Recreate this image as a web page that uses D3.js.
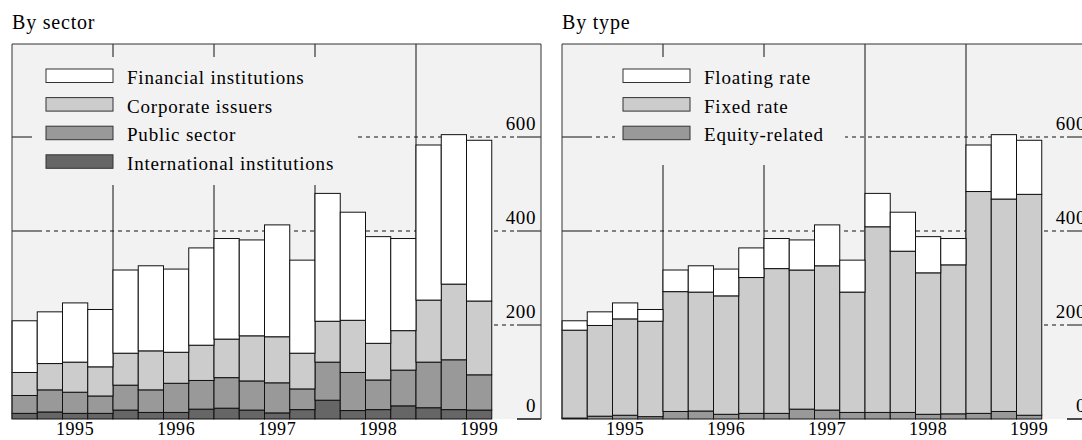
<!DOCTYPE html>
<html>
<head>
<meta charset="utf-8">
<script src="https://cdn.jsdelivr.net/npm/d3@7"></script>
<style>
  body { margin: 0; background: #fff; }
  svg { display: block; font-family: "Liberation Serif", "DejaVu Serif", serif; }
</style>
</head>
<body>
<svg width="1082" height="440"></svg>
<script>
var quarters = ["1995Q1","1995Q2","1995Q3","1995Q4","1996Q1","1996Q2","1996Q3","1996Q4",
    "1997Q1","1997Q2","1997Q3","1997Q4","1998Q1","1998Q2","1998Q3","1998Q4",
    "1999Q1","1999Q2","1999Q3"];
var years = ["1995", "1996", "1997", "1998", "1999"];
var yTicks = [0, 200, 400, 600];

// by sector
var intlInst = [12,15,12,12,19,14,14,21,23,19,13,20,40,18,20,28,24,20,19];
var publicSector = [38,47,45,37,53,48,62,61,65,62,64,44,81,81,63,76,97,106,75];
var corporate = [49,56,64,62,68,83,66,75,82,96,98,76,87,111,78,84,132,161,157];
var financial = [110,110,126,122,177,181,177,207,214,204,238,198,272,230,227,196,330,318,342];

// by type
var equity = [2,6,8,5,16,17,10,12,12,21,19,14,14,14,10,11,12,16,8];
var fixedRate = [187,193,205,203,255,253,252,289,308,296,307,256,395,343,301,317,472,452,470];
var floatingRate = [20,29,34,25,46,56,57,63,64,64,87,68,71,83,77,56,99,137,115];

var sectorKeys = ["International institutions", "Public sector", "Corporate issuers", "Financial institutions"];
var typeKeys = ["Equity-related", "Fixed rate", "Floating rate"];

var svg = d3.select("svg");
var y = d3.scaleLinear().domain([0, 800]).range([419, 43]);

function makeRows(series, keys) {
    return quarters.map(function(q, i) {
        var row = {q: q};
        keys.forEach(function(k, j) { row[k] = series[j][i]; });
        return row;
    });
}

function drawPanel(x0, title, keys, series, fills, legendBox, swatchX) {
    var g = svg.append("g");
    var panelW = 529;
    var x = d3.scaleBand().domain(quarters).range([x0, x0 + 25.25 * quarters.length]);
    var bw = x.bandwidth();

    g.append("text")
        .attr("x", x0)
        .attr("y", 29)
        .style("font-size", "20px")
        .style("letter-spacing", "0.8px")
        .text(title);

    // panel background
    g.append("rect")
        .attr("x", x0).attr("y", 44)
        .attr("width", panelW).attr("height", 419 - 44)
        .attr("fill", "#f2f2f2");

    // year separators
    g.selectAll(".sep")
        .data(years.slice(1))
        .enter().append("line")
        .attr("x1", function(d) { return x(d + "Q1"); })
        .attr("x2", function(d) { return x(d + "Q1"); })
        .attr("y1", 44).attr("y2", 419)
        .attr("stroke", "#111").attr("stroke-width", 1);

    // dashed grid
    var grid = yTicks.filter(function(d) { return d > 0; });
    g.selectAll(".grid")
        .data(grid)
        .enter().append("line")
        .attr("x1", x0 + 26).attr("x2", x0 + panelW - 24)
        .attr("y1", function(d) { return y(d); })
        .attr("y2", function(d) { return y(d); })
        .attr("stroke", "#111")
        .attr("stroke-dasharray", "4,4");

    // solid ticks, left and right
    g.selectAll(".tickL")
        .data(grid)
        .enter().append("line")
        .attr("x1", x0).attr("x2", x0 + 26)
        .attr("y1", function(d) { return y(d); })
        .attr("y2", function(d) { return y(d); })
        .attr("stroke", "#111");
    g.selectAll(".tickR")
        .data(yTicks)
        .enter().append("line")
        .attr("x1", x0 + panelW - 24).attr("x2", x0 + panelW)
        .attr("y1", function(d) { return y(d); })
        .attr("y2", function(d) { return y(d); })
        .attr("stroke", "#111")
        .attr("stroke-width", function(d) { return d === 0 ? 1.5 : 1; });

    g.selectAll(".ylab")
        .data(yTicks)
        .enter().append("text")
        .attr("x", x0 + panelW - 5)
        .attr("y", function(d) { return y(d) - 7; })
        .attr("text-anchor", "end")
        .style("font-size", "19px")
        .style("letter-spacing", "0.6px")
        .text(function(d) { return d; });

    // legend background covers the grid
    g.append("rect")
        .attr("x", legendBox[0]).attr("y", 57)
        .attr("width", legendBox[1] - legendBox[0]).attr("height", legendBox[2] - 57)
        .attr("fill", "#f2f2f2");

    // stacked bars
    var stack = d3.stack().keys(keys);
    var layers = stack(makeRows(series, keys));
    g.selectAll(".layer")
        .data(layers)
        .enter().append("g")
        .attr("fill", function(d, i) { return fills[i]; })
        .selectAll("rect")
        .data(function(d) { return d; })
        .enter().append("rect")
        .attr("x", function(d) { return x(d.data.q); })
        .attr("y", function(d) { return y(d[1]); })
        .attr("width", bw)
        .attr("height", function(d) { return y(d[0]) - y(d[1]); })
        .attr("stroke", "#111")
        .attr("stroke-width", 1);

    // panel border
    g.append("path")
        .attr("d", "M" + x0 + ",419V44H" + (x0 + panelW) + "V419")
        .attr("fill", "none")
        .attr("stroke", "#333");

    // year labels
    g.selectAll(".xlab")
        .data(years)
        .enter().append("text")
        .attr("x", function(d) { return x(d + "Q3") + bw / 2; })
        .attr("y", 435)
        .attr("text-anchor", "middle")
        .style("font-size", "18px")
        .style("letter-spacing", "0.6px")
        .text(function(d) { return d; });

    // legend, top series first
    var legKeys = keys.slice().reverse();
    var legFills = fills.slice().reverse();
    var leg = g.selectAll(".leg")
        .data(legKeys)
        .enter().append("g")
        .attr("transform", function(d, i) { return "translate(0," + (69 + i * 28.6) + ")"; });
    leg.append("rect")
        .attr("x", swatchX).attr("y", 0)
        .attr("width", 67).attr("height", 13.5)
        .attr("fill", function(d, i) { return legFills[i]; })
        .attr("stroke", "#333");
    leg.append("text")
        .attr("x", swatchX + 81)
        .attr("y", 15)
        .style("font-size", "19px")
        .style("letter-spacing", "0.8px")
        .text(function(d) { return d; });
}

drawPanel(12, "By sector", sectorKeys,
    [intlInst, publicSector, corporate, financial],
    ["#666666", "#999999", "#cccccc", "#ffffff"],
    [32, 355, 185], 46);

drawPanel(562, "By type", typeKeys,
    [equity, fixedRate, floatingRate],
    ["#999999", "#cccccc", "#ffffff"],
    [615, 845, 165], 623);
</script>
</body>
</html>
